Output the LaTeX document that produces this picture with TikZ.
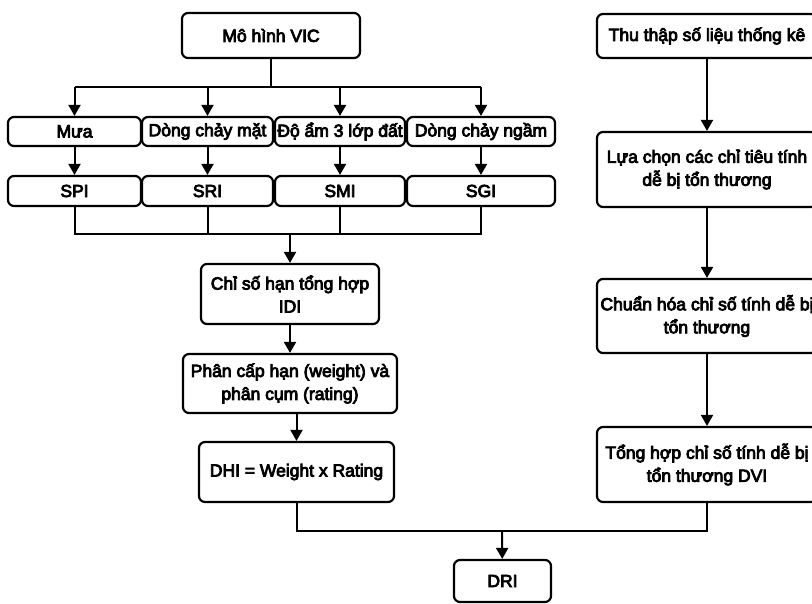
\documentclass[tikz,border=0pt]{standalone}
\usepackage{fontspec}
\setmainfont{Liberation Sans}[FakeBold=4.5]
\usetikzlibrary{arrows.meta}

\tikzset{
  box/.style = {draw, line width = 2.2pt, rounded corners = 6pt, inner sep = 0pt,
                align = center, font = \fontsize{17.5}{23}\selectfont},
  line/.style = {line width = 2pt},
  arr/.style = {line width = 2pt, -{Triangle[length = 11pt, width = 12pt]}}
}

\begin{document}
\begin{tikzpicture}[color = {black}, x = 1pt, y = -1pt]
   \useasboundingbox (0,0) rectangle (812,603);
   % left branch
   \node[box, minimum width = 178pt, minimum height = 45pt] (vic) at (271,35.5) {Mô hình VIC};
   \node[box, minimum width = 133pt, minimum height = 29pt] (mua) at (74.5,131.5) {Mưa};
   \node[box, minimum width = 131pt, minimum height = 29pt] (dcm) at (207.5,131.5) {Dòng chảy mặt};
   \node[box, minimum width = 130pt, minimum height = 29pt] (doam) at (340,131.5) {Độ ẩm 3 lớp đất};
   \node[box, minimum width = 148pt, minimum height = 29pt] (dcn) at (481,131.5) {Dòng chảy ngầm};
   \node[box, minimum width = 133pt, minimum height = 30pt] (spi) at (74.5,191) {SPI};
   \node[box, minimum width = 131pt, minimum height = 30pt] (sri) at (207.5,191) {SRI};
   \node[box, minimum width = 130pt, minimum height = 30pt] (smi) at (340,191) {SMI};
   \node[box, minimum width = 148pt, minimum height = 30pt] (sgi) at (481,191) {SGI};
   \node[box, minimum width = 178pt, minimum height = 60pt] (idi) at (290,294) {Chỉ số hạn tổng hợp\\IDI};
   \node[box, minimum width = 214pt, minimum height = 59pt] (pc) at (290,383.5) {Phân cấp hạn (weight) và\\phân cụm (rating)};
   \node[box, minimum width = 195pt, minimum height = 60pt] (dhi) at (296.5,472) {DHI = Weight x Rating};
   \node[box, minimum width = 97pt, minimum height = 42pt] (dri) at (502.5,581) {DRI};
   % right branch
   \node[box, minimum width = 220pt, minimum height = 44pt] (thu) at (707,36) {Thu thập số liệu thống kê};
   \node[box, minimum width = 220pt, minimum height = 75pt] (lua) at (707,169.5) {Lựa chọn các chỉ tiêu tính\\dễ bị tổn thương};
   \node[box, minimum width = 220pt, minimum height = 74pt] (chuan) at (707,316) {Chuẩn hóa chỉ số tính dễ bị\\tổn thương};
   \node[box, minimum width = 220pt, minimum height = 75pt] (tong) at (707,464.5) {Tổng hợp chỉ số tính dễ bị\\tổn thương DVI};
   % junctions
   \coordinate (vicsplit) at (271,87);
   \coordinate (idimerge) at (290,234);
   \coordinate (drimerge) at (502,531);
   % connectors
   \draw[line] (vic) -- (vicsplit);
   \draw[line] (mua.north |- vicsplit) -- (dcn.north |- vicsplit);
   \draw[arr] (mua.north |- vicsplit) -- (mua);
   \draw[arr] (dcm.north |- vicsplit) -- (dcm);
   \draw[arr] (doam.north |- vicsplit) -- (doam);
   \draw[arr] (dcn.north |- vicsplit) -- (dcn);
   \draw[arr] (mua) -- (spi);
   \draw[arr] (dcm) -- (sri);
   \draw[arr] (doam) -- (smi);
   \draw[arr] (dcn) -- (sgi);
   \draw[line] (spi.south) |- (idimerge) -| (sgi.south);
   \draw[line] (sri.south) -- (sri.south |- idimerge);
   \draw[line] (smi.south) -- (smi.south |- idimerge);
   \draw[arr] (idimerge) -- (idi);
   \draw[arr] (idi) -- (pc);
   \draw[arr] (pc.south -| dhi) -- (dhi);
   \draw[arr] (thu) -- (lua);
   \draw[arr] (lua) -- (chuan);
   \draw[arr] (chuan) -- (tong);
   \draw[line] (dhi.south) |- (drimerge) -| (tong.south);
   \draw[arr] (drimerge) -- (dri);
\end{tikzpicture}
\end{document}
